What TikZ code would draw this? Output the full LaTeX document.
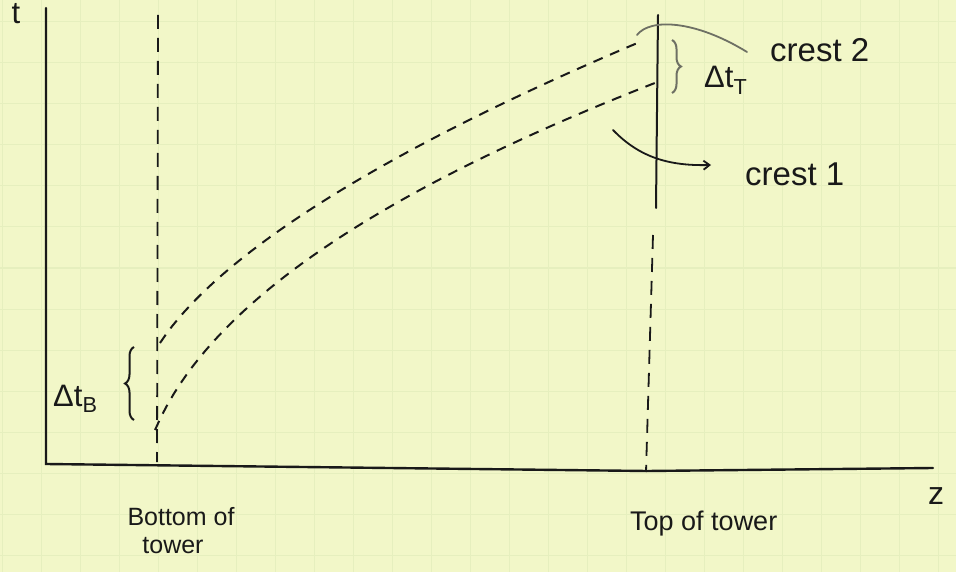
\documentclass[tikz,border=0pt]{standalone}
\usepackage{fontspec}
\setmainfont{Liberation Sans}
\usetikzlibrary{decorations.pathreplacing,arrows.meta}
\definecolor{paper}{RGB}{242,247,200}
\definecolor{gridc}{RGB}{230,239,190}
\definecolor{ink}{RGB}{25,25,25}
\definecolor{pencil}{RGB}{110,112,100}
\tikzset{
  axisline/.style={ink, line width=2.4pt, line cap=round},
  guideline/.style={ink, line width=1.8pt, dash pattern=on 14pt off 9pt},
  crestline/.style={ink, line width=2pt, dash pattern=on 10pt off 8pt},
  pointer/.style={ink, line width=1.8pt, line cap=round},
  grayline/.style={pencil, line width=1.8pt, line cap=round},
  lbl/.style={ink, inner sep=0pt, font=\fontsize{31}{35}\selectfont},
  smalllbl/.style={ink, inner sep=0pt, font=\fontsize{25}{29}\selectfont},
  bracestyle/.style={decorate, decoration={brace, amplitude=9pt}, line width=2pt},
}
\begin{document}
\begin{tikzpicture}[x=1pt,y=-1pt]
\useasboundingbox (0,0) rectangle (956,572);
% paper
\fill[paper] (0,0) rectangle (956,572);
\foreach \gx in {2,41,...,956} \draw[gridc, line width=1pt] (\gx,0) -- (\gx,572);
\foreach \gy in {22,63,...,572} \draw[gridc, line width=1pt] (0,\gy) -- (956,\gy);
% axes
\coordinate (origin) at (46,464);
\coordinate (ttop) at (46,8);
\coordinate (zmid) at (647,471);
\coordinate (zend) at (933,468);
\draw[axisline] (ttop) -- (origin) -- (zmid) -- (zend);
\node[lbl] (tlab) at (16,14) {t};
\node[lbl, font=\fontsize{32}{36}\selectfont] (zlab) at (936,496) {z};
% tower guides
\coordinate (btop) at (158,15);
\coordinate (bbot) at (157,462);
\draw[guideline] (btop) -- (bbot);
\coordinate (ttopv) at (658,15);
\coordinate (tsolidend) at (656,208);
\coordinate (tdashstart) at (653,235);
\coordinate (tbot) at (646,472);
\draw[axisline, line width=2pt] (ttopv) -- (tsolidend);
\draw[guideline] (tdashstart) -- (tbot);
% crests
\draw[crestline] plot[domain=0:480, samples=80] ({160+\x},{343-8.46*((\x+20)^0.6-6.034)});
\draw[crestline] plot[domain=0:500, samples=80] ({155+\x},{430-27.05*((\x+20)^0.45-3.849)});
% Delta t_B
\coordinate (bb1) at (134,420);
\coordinate (bb2) at (134,347);
\draw[ink, bracestyle] (bb1) -- (bb2);
\node[lbl, anchor=base west] (dtb) at (53,406) {Δt\textsubscript{B}};
% Delta t_T
\coordinate (tb1) at (672,40);
\coordinate (tb2) at (672,93);
\draw[pencil, bracestyle] (tb1) -- (tb2);
\node[lbl, anchor=base west] (dtt) at (704,88) {Δt\textsubscript{T}};
% crest labels
\node[lbl, anchor=base west, font=\fontsize{33}{37}\selectfont] (c2) at (770,62) {crest 2};
\node[lbl, anchor=base west, font=\fontsize{33}{37}\selectfont] (c1) at (745,186) {crest 1};
\coordinate (c2a) at (637,35);
\coordinate (c2b) at (747,52);
\draw[grayline] (c2a) .. controls (650,18) and (695,20) .. (c2b);
\coordinate (c1a) at (613,130);
\coordinate (c1b) at (711,165);
\draw[pointer, -{Straight Barb[length=6pt,width=9pt]}] (c1a) .. controls (640,158) and (670,166) .. (c1b);
% tower labels
\node[smalllbl, anchor=base] (bot1) at (181,525) {Bottom of};
\node[smalllbl, anchor=base] (bot2) at (173,553) {tower};
\node[smalllbl, anchor=base west, font=\fontsize{27}{31}\selectfont] (toplab) at (630,530) {Top of tower};
\end{tikzpicture}
\end{document}
